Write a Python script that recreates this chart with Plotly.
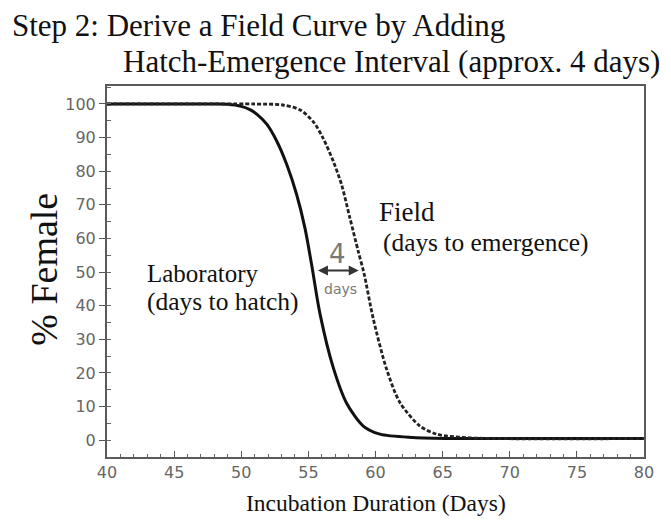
import plotly.graph_objects as go

# Laboratory curve (days to hatch)
lab_days = [40, 48, 49.0, 50.0, 50.65, 51.15, 51.9, 52.64, 53.39, 54.13, 54.75, 55.25, 55.87, 56.86,
            57.85, 59.09, 60.33, 62.79, 66, 80]
lab_pct = [100, 100, 99.9, 99.3, 98.3, 97.0, 94.0, 89.0, 82.0, 73.0, 63.0, 52.0, 37.5, 21.5,
           11.0, 4.2, 1.8, 0.8, 0.5, 0.5]

# Field curve (days to emergence)
field_days = [40, 51, 53.1, 54.4, 55.37, 56.1, 56.86, 57.48, 58.1, 58.72, 59.15, 59.84, 60.83,
              61.82, 63.31, 64.56, 67, 80]
field_pct = [100, 100, 99.7, 98.2, 94.7, 89.8, 82.9, 75.9, 66.0, 56.1, 49.5, 36.0, 21.1,
             11.2, 4.2, 1.8, 0.7, 0.5]

x_ticks = [40, 45, 50, 55, 60, 65, 70, 75, 80]
y_ticks = [0, 10, 20, 30, 40, 50, 60, 70, 80, 90, 100]

SERIF = "Liberation Serif, Times New Roman, serif"
SANS = "DejaVu Sans, sans-serif"

fig = go.Figure()
fig.add_trace(go.Scatter(x=lab_days, y=lab_pct, mode="lines",
                         line=dict(color="#111111", width=3, shape="spline", smoothing=0.8),
                         showlegend=False, hoverinfo="skip"))
fig.add_trace(go.Scatter(x=field_days, y=field_pct, mode="lines",
                         line=dict(color="#222222", width=2.8, dash="4px,2px", shape="spline", smoothing=0.8),
                         showlegend=False, hoverinfo="skip"))

annotations = [
    dict(text="Step 2: Derive a Field Curve by Adding", xref="paper", yref="paper",
         x=-0.181, y=1.164, xanchor="left", yanchor="middle", showarrow=False,
         font=dict(family=SERIF, size=31, color="#111")),
    dict(text="Hatch-Emergence Interval (approx. 4 days)", xref="paper", yref="paper",
         x=1.0335, y=1.065, xanchor="right", yanchor="middle", showarrow=False,
         font=dict(family=SERIF, size=31, color="#111")),
    dict(text="Laboratory", x=42.8, y=49.6, xref="x", yref="y", xanchor="left", yanchor="middle",
         showarrow=False, font=dict(family=SERIF, size=25, color="#111")),
    dict(text="(days to hatch)", x=42.8, y=41.3, xref="x", yref="y", xanchor="left", yanchor="middle",
         showarrow=False, font=dict(family=SERIF, size=25.5, color="#111")),
    dict(text="Field", x=60.1, y=67.9, xref="x", yref="y", xanchor="left", yanchor="middle",
         showarrow=False, font=dict(family=SERIF, size=27, color="#111")),
    dict(text="(days to emergence)", x=60.4, y=58.9, xref="x", yref="y", xanchor="left", yanchor="middle",
         showarrow=False, font=dict(family=SERIF, size=25.4, color="#111")),
    dict(text="4", x=57.2, y=55.3, xref="x", yref="y", xanchor="center", yanchor="middle",
         showarrow=False, font=dict(family=SANS, size=26, color="#777")),
    dict(text="days", x=57.4, y=44.9, xref="x", yref="y", xanchor="center", yanchor="middle",
         showarrow=False, font=dict(family=SANS, size=14, color="#777")),
    dict(text="", x=58.75, y=50.5, ax=55.6, ay=50.5, xref="x", yref="y", axref="x", ayref="y",
         showarrow=True, arrowhead=2, startarrowhead=2, arrowside="end+start",
         arrowwidth=2, arrowsize=1, startarrowsize=1, arrowcolor="#333"),
    dict(text="% Female", xref="paper", yref="paper", x=-0.1173, y=0.5047, textangle=-90,
         xanchor="center", yanchor="middle", showarrow=False,
         font=dict(family=SERIF, size=38, color="#111")),
    dict(text="Incubation Duration (Days)", xref="paper", yref="paper", x=0.501, y=-0.125,
         xanchor="center", yanchor="middle", showarrow=False,
         font=dict(family=SERIF, size=23.5, color="#111")),
]

fig.update_layout(
    width=663, height=515,
    margin=dict(l=99, r=27, t=78, b=65.5),
    paper_bgcolor="white", plot_bgcolor="white",
    annotations=annotations,
    xaxis=dict(range=[40, 80], tickvals=x_ticks, ticktext=[str(v) for v in x_ticks],
               showgrid=False, zeroline=False, showline=True, mirror=True,
               linecolor="#5a5a5a", linewidth=2, ticks="inside", ticklen=6, tickcolor="#555",
               tickfont=dict(family=SANS, size=16, color="#666"),
               minor=dict(dtick=1, ticks="inside", ticklen=3, tickcolor="#666", showgrid=False)),
    yaxis=dict(range=[-5.0, 105.35], tickvals=y_ticks, ticktext=[str(v) for v in y_ticks],
               showgrid=False, zeroline=False, showline=True, mirror=True,
               linecolor="#5a5a5a", linewidth=2, ticks="outside", ticklen=6, tickcolor="#555",
               tickfont=dict(family=SANS, size=16, color="#666"),
               minor=dict(dtick=5, ticks="inside", ticklen=4, tickcolor="#666", showgrid=False)),
)

fig.write_html("out.html")
